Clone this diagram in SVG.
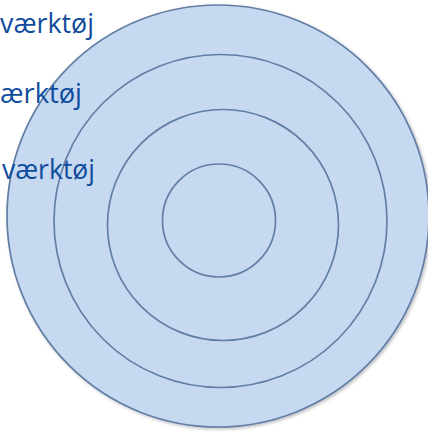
<svg xmlns="http://www.w3.org/2000/svg" width="428" height="434" viewBox="0 0 428 434">
<defs>
<style>
.ring{fill:#C6D9F1;stroke:#627EA5;stroke-width:1.7}
.lbl{font-family:"Open Sans","Liberation Sans",sans-serif;font-size:26.5px;fill:#0F4C9C;text-anchor:end}
</style>
<filter id="sh" x="-10%" y="-10%" width="120%" height="120%">
<feDropShadow dx="1.5" dy="1.5" stdDeviation="1.5" flood-color="#000" flood-opacity="0.25"/>
</filter>
</defs>
<g id="ring-outer"><circle class="ring" cx="218" cy="216" r="211" filter="url(#sh)"/></g>
<g id="ring-2"><circle class="ring" cx="220.5" cy="221" r="166.5"/></g>
<g id="ring-3"><circle class="ring" cx="223" cy="225" r="115.5"/></g>
<g id="ring-inner"><circle class="ring" cx="219" cy="220.5" r="56.5"/></g>
<g id="labels">
<text class="lbl" x="94" y="33" textLength="94" lengthAdjust="spacingAndGlyphs">værktøj</text>
<text class="lbl" x="82" y="103" textLength="82" lengthAdjust="spacingAndGlyphs">ærktøj</text>
<text class="lbl" x="95" y="179" textLength="93" lengthAdjust="spacingAndGlyphs">værktøj</text>
</g>
</svg>
